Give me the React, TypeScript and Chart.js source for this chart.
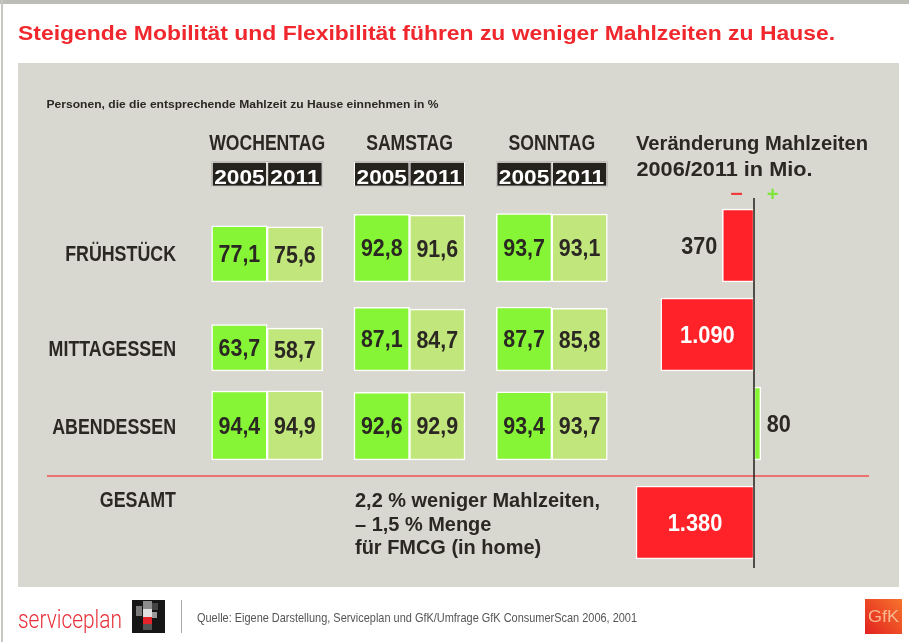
import { useEffect, useRef } from 'react';
import { Chart, registerables } from 'chart.js';

Chart.register(...registerables);

// ---------------- data ----------------
const TITLE = 'Steigende Mobilität und Flexibilität führen zu weniger Mahlzeiten zu Hause.';
const SUBTITLE = 'Personen, die die entsprechende Mahlzeit zu Hause einnehmen in %';
const DAYS = ['WOCHENTAG', 'SAMSTAG', 'SONNTAG'];
const YEARS = ['2005', '2011'];
const MEALS = ['FRÜHSTÜCK', 'MITTAGESSEN', 'ABENDESSEN'];
// rows: meals, columns: days
const SHARE_2005 = [
  [77.1, 92.8, 93.7],
  [63.7, 87.1, 87.7],
  [94.4, 92.6, 93.4],
];
const SHARE_2011 = [
  [75.6, 91.6, 93.1],
  [58.7, 84.7, 85.8],
  [94.9, 92.9, 93.7],
];
const CHANGE_TITLE = ['Veränderung Mahlzeiten', '2006/2011 in Mio.'];
const CHANGE_ROWS = ['FRÜHSTÜCK', 'MITTAGESSEN', 'ABENDESSEN', 'GESAMT'];
const CHANGE_MIO = [-370, -1090, 80, -1380];
const TOTAL_LINES = ['2,2 % weniger Mahlzeiten,', '– 1,5 % Menge', 'für FMCG (in home)'];
const SOURCE = 'Quelle: Eigene Darstellung, Serviceplan und GfK/Umfrage GfK ConsumerScan 2006, 2001';
const BRAND = 'serviceplan';
const BRAND2 = 'GfK';

// ---------------- layout / style ----------------
const W = 909;
const H = 642;
const SANS = '"Liberation Sans", Arial, "DejaVu Sans", sans-serif';
const DARK = '#2b2722';
const RED = '#ff2228';
const TITLE_RED = '#f0282e';
const GREEN_2005 = '#86f535';
const GREEN_2011 = '#c1e67b';
const PANEL = '#d9d8d0';
const YEAR_COLORS = [GREEN_2005, GREEN_2011];

const C1 = { left: 196, right: 623, top: 195, bottom: 470 };
const PX_PER_PCT = 0.73;
const ROW_STEP = 89;
const FIRST_BASE = 282;
const rowBase = (i: number) => (C1.bottom - (FIRST_BASE + i * ROW_STEP)) / PX_PER_PCT;
const Y1_MAX = (C1.bottom - C1.top) / PX_PER_PCT;

const C2 = { left: 600, right: 880, top: 198, bottom: 568 };
const ZERO_X = 754;
const PX_PER_MIO = 0.0855;
const X2_MIN = -(ZERO_X - C2.left) / PX_PER_MIO;
const X2_MAX = (C2.right - ZERO_X) / PX_PER_MIO;
const FIRST_CENTER = 245.5;
const TOTAL_GAP = 10;
const ROW_SLOTS = [0, 1, 2, 3 + TOTAL_GAP / ROW_STEP];
const Y2_MIN = -(FIRST_CENTER - C2.top) / ROW_STEP;
const Y2_MAX = Y2_MIN + (C2.bottom - C2.top) / ROW_STEP;

const LABEL_BASELINES = [261, 355.5, 433.5, 506.5];

type TOpts = {
  size: number;
  weight?: string | number;
  color: string;
  align?: CanvasTextAlign;
  sx?: number;
  width?: number;
  family?: string;
};

function drawText(ctx: CanvasRenderingContext2D, text: string, x: number, y: number, o: TOpts) {
  ctx.save();
  ctx.font = `${o.weight ?? 'bold'} ${o.size}px ${o.family ?? SANS}`;
  const w = ctx.measureText(text).width;
  const s = o.width ? o.width / w : o.sx ?? 1;
  ctx.translate(x, y);
  ctx.scale(s, 1);
  ctx.textAlign = o.align ?? 'left';
  ctx.textBaseline = 'alphabetic';
  ctx.fillStyle = o.color;
  ctx.fillText(text, 0, 0);
  ctx.restore();
}

const fmtPct = (v: number) => v.toFixed(1).replace('.', ',');
const fmtMio = (v: number) => {
  const a = Math.abs(v);
  return a >= 1000 ? `${Math.floor(a / 1000)}.${String(a % 1000).padStart(3, '0')}` : String(a);
};

// ---------------- plugins ----------------
const backgroundPlugin = {
  id: 'bg',
  beforeDraw(chart: any) {
    const ctx: CanvasRenderingContext2D = chart.ctx;
    ctx.save();
    ctx.fillStyle = '#ffffff';
    ctx.fillRect(0, 0, W, H);
    ctx.fillStyle = '#bdbdb7';
    ctx.fillRect(0, 0, W, 4);
    ctx.fillStyle = '#c6c6c2';
    ctx.fillRect(1, 0, 2, H);
    ctx.fillStyle = PANEL;
    ctx.fillRect(18, 63, 881, 524);

    drawText(ctx, TITLE, 18, 39.5, { size: 20, color: TITLE_RED, width: 817 });
    drawText(ctx, SUBTITLE, 46.5, 107.5, { size: 11, color: DARK, width: 392 });

    // row labels
    CHANGE_ROWS.forEach((lab, i) => {
      drawText(ctx, lab, 176, LABEL_BASELINES[i], { size: 22, color: DARK, align: 'right', sx: 0.81 });
    });

    // change heading
    drawText(ctx, CHANGE_TITLE[0], 636, 150, { size: 21, color: DARK, width: 232 });
    drawText(ctx, CHANGE_TITLE[1], 636.5, 176, { size: 21, color: DARK, width: 176 });

    // total text
    TOTAL_LINES.forEach((l, i) => {
      drawText(ctx, l, 355, 507 + i * 23.5, { size: 21, color: DARK, sx: 0.95 });
    });

    // separator
    ctx.strokeStyle = '#ef5252';
    ctx.lineWidth = 1.5;
    ctx.beginPath();
    ctx.moveTo(47, 476);
    ctx.lineTo(869, 476);
    ctx.stroke();

    // footer
    drawText(ctx, BRAND, 18, 628, { size: 25, weight: 300, family: 'Roboto, "Liberation Sans", sans-serif', color: '#e8303a', width: 104 });
    ctx.fillStyle = '#161616';
    ctx.fillRect(132, 600, 33, 33);
    const cells: [number, number, number, number, string][] = [
      [136, 606, 6, 10, '#7a7a7a'],
      [143, 601, 9, 8, '#8c8c8c'],
      [143, 609, 9, 8, '#e0e0e0'],
      [143, 617, 9, 7, '#e4222a'],
      [143, 624, 9, 6, '#555555'],
      [152, 603, 6, 7, '#444444'],
      [152, 612, 5, 6, '#9a9a9a'],
    ];
    cells.forEach(([x, y, w, h, c]) => {
      ctx.fillStyle = c;
      ctx.fillRect(x, y, w, h);
    });
    ctx.fillStyle = '#a8a8a8';
    ctx.fillRect(181, 600, 1, 33);
    drawText(ctx, SOURCE, 197, 621.5, { size: 13, weight: 'normal', color: '#555555', width: 440 });

    const g = ctx.createLinearGradient(903, 599, 865, 634);
    g.addColorStop(0, '#f7742c');
    g.addColorStop(1, '#e2221f');
    ctx.fillStyle = g;
    ctx.fillRect(865, 599, 37, 35);
    drawText(ctx, BRAND2, 883.5, 622, { size: 16, weight: 'normal', color: '#f8b890', align: 'center', width: 31 });
    ctx.restore();
  },
};

const sharePlugin = {
  id: 'shares',
  afterDatasetsDraw(chart: any) {
    const ctx: CanvasRenderingContext2D = chart.ctx;
    const xs = chart.scales.x;
    // day headings
    DAYS.forEach((d, i) => {
      drawText(ctx, d, xs.getPixelForValue(i), 150, { size: 22, color: DARK, align: 'center', sx: 0.8 });
    });
    // year boxes from first meal's bars
    chart.data.datasets.forEach((ds: any, di: number) => {
      if (ds.meal !== 0) return;
      const meta = chart.getDatasetMeta(di);
      meta.data.forEach((el: any) => {
        const { x, width } = el.getProps(['x', 'width'], true);
        ctx.save();
        ctx.fillStyle = '#25211c';
        ctx.fillRect(x - width / 2, 161.7, width, 25);
        ctx.strokeStyle = '#ffffff';
        ctx.lineWidth = 1;
        ctx.strokeRect(x - width / 2 + 0.5, 162.2, width - 1, 24);
        ctx.restore();
        drawText(ctx, YEARS[ds.year], x, 183.5, { size: 21, color: '#ffffff', align: 'center', sx: 1.08 });
      });
    });
    // values in bars
    chart.data.datasets.forEach((ds: any, di: number) => {
      const meta = chart.getDatasetMeta(di);
      meta.data.forEach((el: any, j: number) => {
        const { x, y, base } = el.getProps(['x', 'y', 'base'], true);
        const cy = (y + base) / 2;
        drawText(ctx, fmtPct(ds.values[j]), x, cy + 8.2, { size: 23, color: DARK, align: 'center', sx: 0.93 });
      });
    });
  },
};

const changePlugin = {
  id: 'change',
  afterDatasetsDraw(chart: any) {
    const ctx: CanvasRenderingContext2D = chart.ctx;
    const x0 = chart.scales.x.getPixelForValue(0);
    ctx.save();
    ctx.strokeStyle = '#221e1a';
    ctx.lineWidth = 1.5;
    ctx.beginPath();
    ctx.moveTo(x0, chart.chartArea.top);
    ctx.lineTo(x0, chart.chartArea.bottom);
    ctx.stroke();
    ctx.restore();
    drawText(ctx, '–', x0 - 17.5, 200, { size: 22, color: '#f03c3c', align: 'center' });
    drawText(ctx, '+', x0 + 18.5, 201, { size: 20, color: '#7ee63a', align: 'center' });

    const meta = chart.getDatasetMeta(0);
    meta.data.forEach((el: any, i: number) => {
      const { x, y, base } = el.getProps(['x', 'y', 'base'], true);
      const v = CHANGE_MIO[i];
      const w = Math.abs(x - base);
      const txt = fmtMio(v);
      if (w > 60) {
        drawText(ctx, txt, (x + base) / 2, y + 8, { size: 23, color: '#ffffff', align: 'center', sx: 0.95 });
      } else if (v < 0) {
        drawText(ctx, txt, x - 5, y + 8, { size: 23, color: DARK, align: 'right', sx: 0.94 });
      } else {
        drawText(ctx, txt, x + 6, y + 8, { size: 23, color: DARK, align: 'left', sx: 0.94 });
      }
    });
  },
};

export default function App() {
  const r1 = useRef<HTMLCanvasElement>(null);
  const r2 = useRef<HTMLCanvasElement>(null);

  useEffect(() => {
    const datasets: any[] = [];
    MEALS.forEach((meal, m) => {
      YEARS.forEach((year, k) => {
        const vals = (k === 0 ? SHARE_2005 : SHARE_2011)[m];
        datasets.push({
          label: `${meal} ${year}`,
          stack: year,
          meal: m,
          year: k,
          values: vals,
          data: vals.map((v) => [rowBase(m), rowBase(m) + v]),
          backgroundColor: YEAR_COLORS[k],
          borderColor: '#ffffff',
          borderWidth: 1.5,
          borderSkipped: false,
          barThickness: 55.5,
        });
      });
    });

    const c1 = new Chart(r1.current!, {
      type: 'bar',
      data: { labels: DAYS, datasets },
      options: {
        responsive: false,
        animation: false,
        events: [],
        layout: { padding: { left: C1.left, right: W - C1.right, top: C1.top, bottom: H - C1.bottom } },
        plugins: { legend: { display: false }, tooltip: { enabled: false } },
        scales: {
          x: { type: 'category', display: false, offset: true, grid: { display: false } },
          y: { type: 'linear', display: false, stacked: false, min: 0, max: Y1_MAX },
        },
      } as any,
      plugins: [backgroundPlugin, sharePlugin],
    });

    const c2 = new Chart(r2.current!, {
      type: 'bar',
      data: {
        datasets: [
          {
            label: 'Veränderung',
            data: CHANGE_MIO.map((v, i) => ({ x: v, y: ROW_SLOTS[i] })),
            backgroundColor: CHANGE_MIO.map((v) => (v < 0 ? RED : GREEN_2005)),
            borderColor: '#ffffff',
            borderWidth: 1.5,
            borderSkipped: false,
            barThickness: 73,
          } as any,
        ],
      },
      options: {
        indexAxis: 'y',
        responsive: false,
        animation: false,
        events: [],
        layout: { padding: { left: C2.left, right: W - C2.right, top: C2.top, bottom: H - C2.bottom } },
        plugins: { legend: { display: false }, tooltip: { enabled: false } },
        scales: {
          x: { type: 'linear', display: false, min: X2_MIN, max: X2_MAX, grid: { display: false } },
          y: { type: 'linear', display: false, reverse: true, offset: false, min: Y2_MIN, max: Y2_MAX, grid: { display: false } },
        },
      } as any,
      plugins: [changePlugin],
    });

    return () => {
      c1.destroy();
      c2.destroy();
    };
  }, []);

  return (
    <div style={{ position: 'absolute', left: 0, top: 0, width: W, height: H }}>
      <canvas ref={r1} width={W} height={H} style={{ position: 'absolute', left: 0, top: 0 }} />
      <canvas ref={r2} width={W} height={H} style={{ position: 'absolute', left: 0, top: 0, pointerEvents: 'none' }} />
    </div>
  );
}
